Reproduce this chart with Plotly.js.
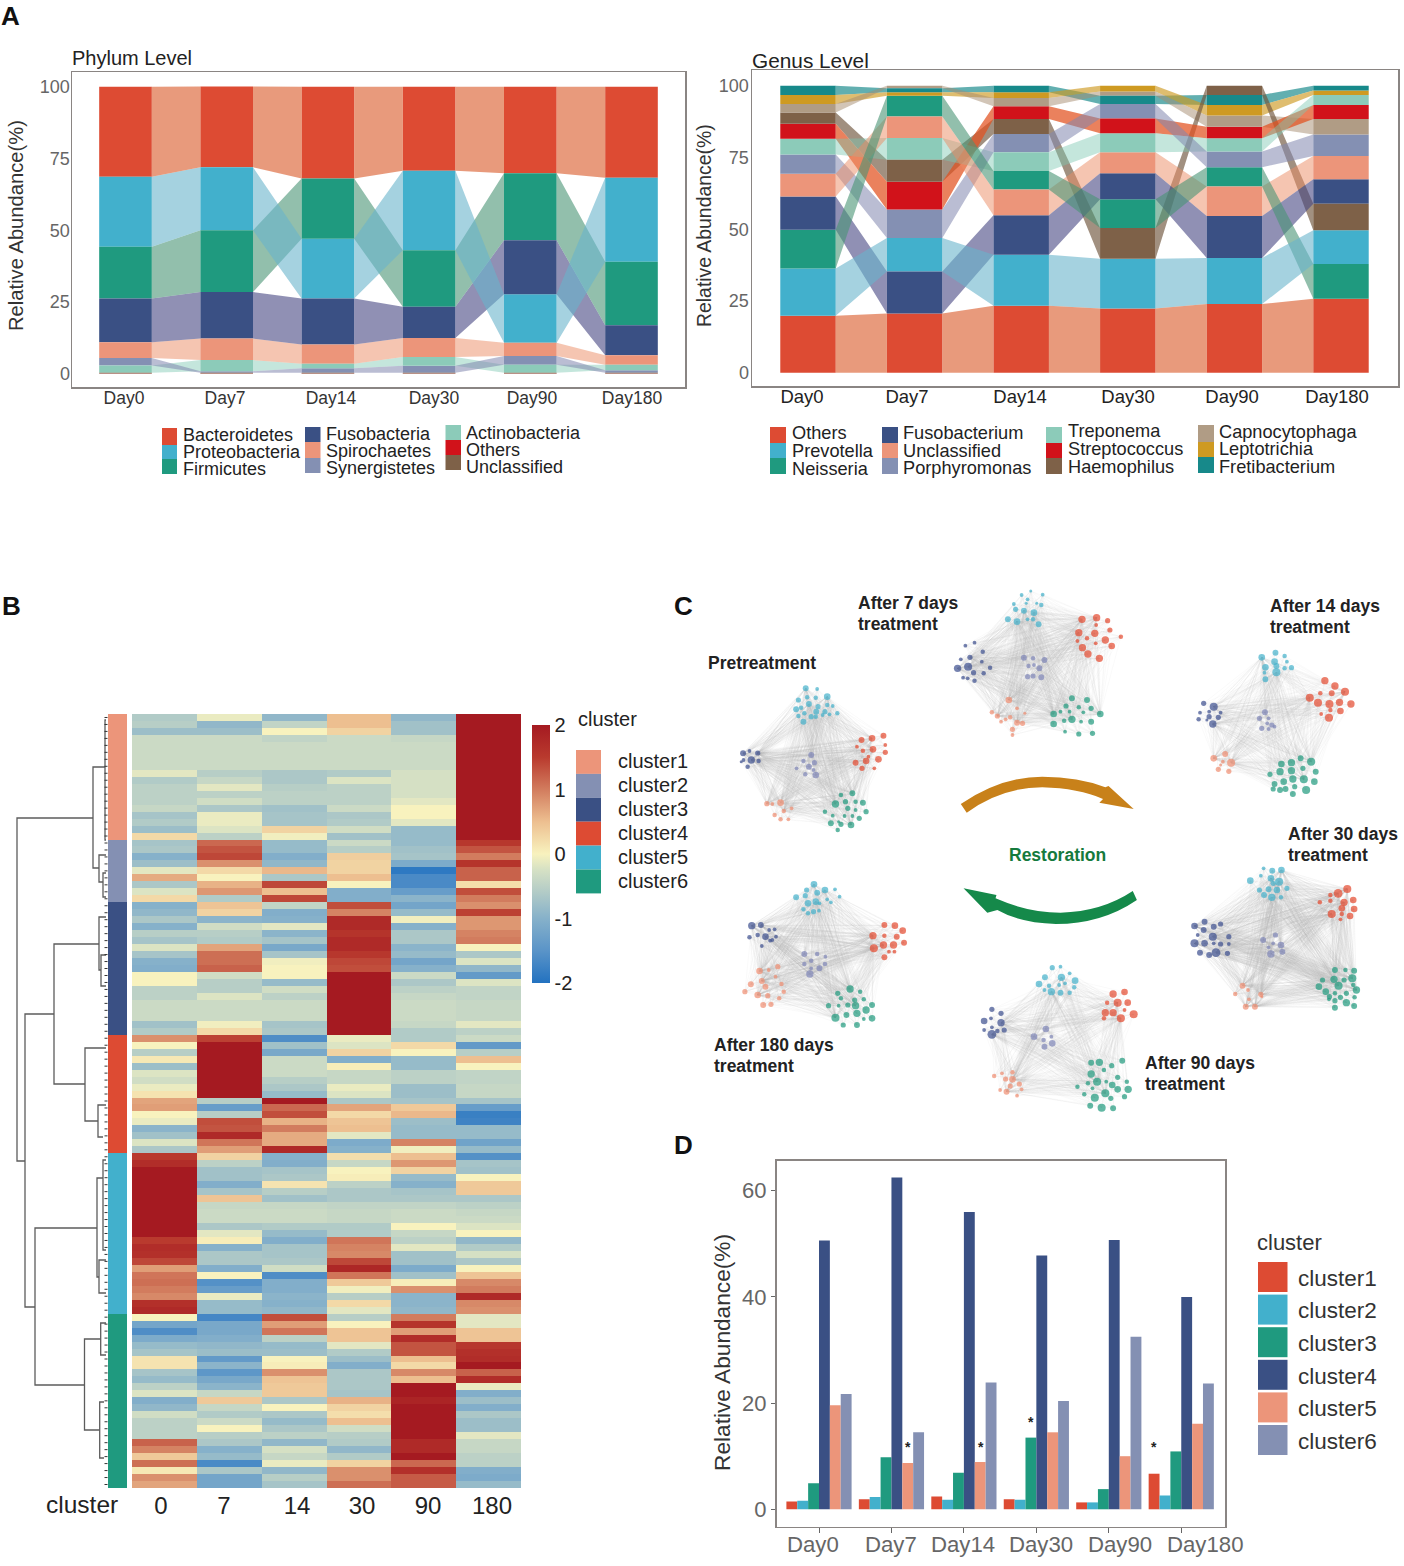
<!DOCTYPE html>
<html><head><meta charset="utf-8">
<script src="https://cdn.plot.ly/plotly-3.0.1.min.js"></script>
<style>html,body{margin:0;padding:0;background:#fff}#c{width:1404px;height:1566px}</style>
</head><body><div id="c"></div>
<script>
var W=1404,H=1566,FONT='"Liberation Sans", Arial, sans-serif';
var days=['Day0','Day7','Day14','Day30','Day90','Day180'];

// ---- Panel A, phylum level
var phylumNames=['Bacteroidetes','Proteobacteria','Firmicutes','Fusobacteria','Spirochaetes','Synergistetes','Actinobacteria','Others','Unclassified'];
var bacteroidetes=[31.4,28.1,32,29.3,30.2,31.7];
var proteobacteria=[24.4,22,20.8,27.7,16.9,29.3];
var firmicutes=[18,21.5,21,19.7,23.3,22.1];
var fusobacteria=[15.2,16.2,16,10.9,18.8,10.5];
var spirochaetes=[5.5,7.5,6.7,6.6,4.6,3.3];
var synergistetes=[2.6,0.5,1.55,2.45,3.1,0.85];
var actinobacteria=[2.55,3.9,1.6,3,2.75,1.9];
var phylumOthers=[0.1,0.1,0.1,0.1,0.1,0.1];
var phylumUnclassified=[0.25,0.25,0.25,0.25,0.25,0.25];
var phylumValues=[bacteroidetes,proteobacteria,firmicutes,fusobacteria,spirochaetes,synergistetes,actinobacteria,phylumOthers,phylumUnclassified];
// stack order per day, bottom to top (indexes into phylumNames)
var phylumStack=[[7,8,6,5,4,3,2,1,0],[7,8,5,6,4,3,2,1,0],[7,8,5,6,4,3,1,2,0],[7,8,5,6,4,3,2,1,0],[7,8,6,5,4,1,3,2,0],[7,8,5,6,4,3,2,1,0]];
var phylumColors=['#DD4B33','#42B0CC','#1F9A7F','#3A5084','#EC957A','#8490B3','#8CCBB9','#D1121A','#7E6148'];
var phylumFlow=['rgba(222,111,68,.7)','rgba(105,180,203,.6)','rgba(73,148,117,.6)','rgba(70,70,130,.6)','rgba(236,140,100,.5)','rgba(130,135,175,.55)','rgba(125,200,178,.45)','rgba(209,18,26,.5)','rgba(126,97,72,.5)'];
var phylumLabelPx=[124,225,331,434,532,632];

// ---- Panel A, genus level
var genusNames=['Others','Prevotella','Neisseria','Fusobacterium','Unclassified','Porphyromonas','Treponema','Streptococcus','Haemophilus','Capnocytophaga','Leptotrichia','Fretibacterium'];
var gOthers=[19.8,20.6,23.3,22.4,23.9,25.8];
var gPrevotella=[16.5,11.6,17.8,17.3,16.1,11.7];
var gNeisseria=[13.5,7.2,6.5,10,6.7,12.1];
var gFusobacterium=[11.6,14.7,13.8,9.1,14.6,8.5];
var gUnclassified=[7.9,7.5,8.9,7.3,10.3,8.1];
var gPorphyromonas=[6.7,10,6.4,5,5.5,7.5];
var gTreponema=[5.5,7.6,6.5,6.6,4.6,3.5];
var gStreptococcus=[5.2,9.6,4.4,5.2,4,4.9];
var gHaemophilus=[4,7.7,5.2,10.7,3.2,9.3];
var gCapnocytophaga=[2.9,0.9,2.9,1.5,3.9,5.4];
var gLeptotrichia=[3.2,1.2,2,2,3.7,1.5];
var gFretibacterium=[3.2,1.4,2.3,2.9,3.5,1.7];
var genusValues=[gOthers,gPrevotella,gNeisseria,gFusobacterium,gUnclassified,gPorphyromonas,gTreponema,gStreptococcus,gHaemophilus,gCapnocytophaga,gLeptotrichia,gFretibacterium];
var genusStack=[[0,1,2,3,4,5,6,7,8,9,10,11],[0,3,1,5,7,8,6,4,2,10,11,9],[0,1,3,4,2,6,5,8,7,9,10,11],[0,1,8,2,3,4,6,7,5,11,9,10],[0,1,3,4,2,5,6,7,9,10,11,8],[0,2,1,8,3,4,5,9,7,6,10,11]];
var genusColors=['#DD4B33','#42B0CC','#1F9A7F','#3A5084','#EC957A','#8490B3','#8CCBB9','#D1121A','#7E6148','#B09C85','#CE9A22','#17898A'];
var genusFlow=['rgba(222,111,68,.7)','rgba(105,180,203,.6)','rgba(73,148,117,.6)','rgba(70,70,130,.6)','rgba(236,140,100,.5)','rgba(130,135,175,.55)','rgba(125,200,178,.45)','rgba(226,80,30,.72)','rgba(110,85,60,.65)','rgba(165,140,112,.5)','rgba(206,154,34,.65)','rgba(23,137,138,.68)'];
var genusLabelPx=[802,907,1020,1128,1232,1337];

// ---- Panel B, heatmap rows (columns 0,7,14,30,90,180)
var heatColumns=['0','7','14','30','90','180'];
var heatCluster1=[[-.6,-.1,-.9,.5,-.9,2.2],[-.55,-.9,-.45,.5,-.75,2.2],[-.8,-.8,0,.3,-.75,2.2],[-.35,-.35,-.45,-.35,-.4,2.2],[-.35,-.35,-.35,-.35,-.35,2.2],[-.35,-.35,-.35,-.35,-.35,2.2],[-.35,-.35,-.35,-.35,-.35,2.2],[-.35,-.35,-.35,-.35,-.35,2.2],[-.15,-.55,-.65,-.6,-.25,2.2],[-.6,-.4,-.65,-.2,-.25,2.2],[-.5,-.15,-.55,-.5,-.25,2.2],[-.5,-.5,-.5,-.5,-.25,2.2],[-.5,-.3,-.5,-.5,-.15,2.2],[-.4,-.65,-.75,-.35,0,2.2],[-.7,-.1,-.7,-.65,0,2.2],[-.6,-.1,-.7,-.6,-.15,2.2],[-.8,-.2,.3,-.3,-.85,2.2],[.25,-.5,-.05,-.75,-.85,2.2]];
var heatCluster2=[[-.7,1.15,-.85,-.35,-.85,1.55],[-.65,1.3,-.85,-.55,-.75,1.3],[-1,1.4,-1.05,.35,-.7,1],[-.8,.85,-.9,.3,-1.1,1.6],[-.15,.25,.55,.3,-1.9,1.2],[.65,0,-.65,.5,-1.65,1.2],[-.65,.6,1.4,0,-1.65,.2],[-.2,.8,.5,-1.05,-1.35,1.35],[.25,-.6,1.4,-1.05,-.95,1]];
var heatCluster3=[[-1,.45,-.45,1.35,-1.2,.85],[-.9,.3,-1.05,.95,-.85,1.45],[-.65,-.95,-1,1.75,-.05,.8],[-1,-.3,-.15,1.75,-1,.8],[-.55,-.55,-.95,1.6,-.65,.95],[-.7,-.6,-.7,1.75,-.65,1],[-.2,.7,-1.15,1.75,-.95,0],[-.7,1.1,-.7,1.55,-.85,-.65],[-1,1.1,-.05,1.4,-1.2,-.2],[-1.05,1.2,0,1.35,-1,-.9],[0,-.3,0,2.2,-.35,-1.4],[0,-.55,-.85,2.2,-.65,-.2],[-.5,-.55,-.3,2.2,-.5,-.45],[-.5,-.2,-.5,2.2,-.4,-.45],[-.35,-.35,-.35,2.2,-.35,-.4],[-.35,-.35,-.35,2.2,-.35,-.4],[-.35,-.35,-.35,2.2,-.35,-.4],[-.75,-.05,-.7,2.2,-.4,-.15],[-.6,.25,-.65,2.2,-.6,-.5]];
var heatCluster4=[[.85,1.45,-1.6,-.1,-.6,-.35],[0,2.1,-.75,-.2,.25,-1.4],[-.55,2.1,-1.15,.3,0,-.55],[.1,2.1,-.35,-1.05,-.85,.5],[-.8,2.2,-.35,.05,-.85,0],[-.2,2.2,-.35,-.4,-.5,-.45],[-.3,2.2,-.55,-.4,-.5,-.45],[-.1,2.2,-.65,-.1,-.8,-.4],[.15,2.2,-.85,-.2,-.8,-.4],[.7,-.55,2.2,-.65,-.7,-.7],[.75,-1.35,1.15,.7,.4,-1.35],[0,-.55,1.35,.25,.55,-1.8],[-.1,1.35,.6,.45,-.8,-1.75],[-.95,1.3,1,.5,-.85,-.85],[-.75,1.75,.65,-.15,-.85,-.85],[-.2,1.05,.65,-1.1,.95,-1.25],[-.65,.75,1.75,-1,-.05,-.85]];
var heatCluster5=[[1.5,.3,-1,.2,.5,-1.55],[1.7,-.5,-1.05,-.4,.8,-.7],[2.15,-.75,-.7,0,.3,-.75],[2.15,-.75,-.65,.05,-.85,0],[2,-1.05,.15,-.5,-1,.4],[2.1,-.7,-.55,-.65,-.7,.4],[2.15,.45,-.75,-.65,-.65,-.65],[2.2,-.4,-.4,-.45,-.45,-.5],[2.2,-.35,-.35,-.4,-.35,-.4],[2.2,-.35,-.35,-.4,-.35,-.35],[2.2,-.65,-.6,-.6,0,-.2],[2.15,-.15,-.85,-.6,-.4,0],[1.5,.05,-1.05,1.05,-.5,-.9],[1.7,-1,-.7,.95,-.15,-.6],[1.65,-.65,-.7,.9,-.75,-.25],[1.4,-.65,-.65,1.4,-.75,-.65],[.75,-1.05,-.3,1.8,-1.1,0],[1.05,0,-1.6,1.05,-.75,.45],[1.1,-1.55,-1.05,.4,.05,.9],[1,-1.35,-1.05,-.05,.85,1],[.9,-.1,-.95,-.55,-.95,1.75],[1.65,-.85,-1,.25,-.95,.9],[1.75,-.85,-.9,-.15,-.9,.85]];
var heatCluster6=[[0,-1.7,1.35,-.55,1,-.15],[-1.2,-1.15,.75,0,1.6,-.15],[-1.6,-1.15,1.05,.45,.75,.45],[-1.1,-1.05,-.5,.45,1.7,.45],[-.85,-.9,-.85,-.15,1.3,1.55],[-.7,-.8,-.8,-.6,1.3,1.65],[.15,-1.4,0,-.8,.5,1.7],[.15,-.95,.05,-1.05,.25,2.05],[-.7,-1.45,.85,-.65,.9,1.2],[-.85,-1.15,.45,-.65,.5,1.7],[-.5,-.95,.4,-.65,2.1,-.1],[-.2,-.4,.4,-.7,2.1,-1.05],[-1.05,.4,-.65,.6,1.85,-.8],[-.9,-.4,0,.3,2.1,-1.05],[-.3,-.6,-.65,.2,2.1,-.65],[-.5,-.35,-.85,.5,2.2,-.8],[-.5,0,-.65,-.3,2.2,-.8],[-.5,-.55,-.5,-.55,2.2,-.15],[1.2,-.65,-.9,-.6,1.75,-.4],[.95,-1,-.25,-.9,1.75,-.4],[.4,-.85,-.4,-.6,2.1,-.5],[1.1,-1.65,-.1,.3,1.15,-.5],[.1,-.65,-.9,.85,1.65,-1.05],[.85,-1.2,-.55,.85,1.25,-1.1],[.7,-1.2,-.7,1.1,1.25,-.85]];
var heatGroups=[heatCluster1,heatCluster2,heatCluster3,heatCluster4,heatCluster5,heatCluster6];
var heatGroupColors=['#EC957A','#8490B3','#3A5084','#DD4B33','#42B0CC','#1F9A7F'];
var heatScale=[[0,'#2372C0'],[.125,'#5A94C8'],[.25,'#86B1CA'],[.375,'#BCD1C6'],[.44,'#D6E1C4'],[.5,'#F8F2BE'],[.625,'#EDBF90'],[.75,'#D27C5E'],[.875,'#B93A2E'],[1,'#A51A21']];
var heatLabelPx=[161,224,297,362,428,492];
// merge: [node x, upper y, upper child x, lower y, lower child x]
var dendroLinks=[[17,818,93,1161,25],[93,767,105,868,99],[99,855,106,882,103],[103,873,106,897,106],[25,1014,54,1307,35],[54,944,99,1084,85],[99,917,106,970,101],[101,955,106,986,106],[85,1048,106,1121,98],[98,1105,106,1137,103],[35,1228,97,1385,84.5],[97,1178,103,1277,99],[103,1160,106,1250,106],[99,1260,106,1293,106],[84.5,1339,100.7,1430,99.7],[100.7,1323,106,1355,106],[99.7,1402,104,1458,104],[105,720,106,840,106]];

// ---- Panel C, network nodes: [x,y,size]
var clusterNodeColors=['#43B1CB','#E4492D','#3C4F8E','#7F86B8','#F08D70','#1F9A7E'];
var netPre=[[[253,325,6],[278,327,3],[237,360,5],[256,352,4],[275,353,4],[300,350,7],[260,372,6],[243,383,4],[232,388,6],[280,380,5],[300,375,4],[312,378,3],[276,395,6],[295,395,5],[250,400,4],[265,410,5],[248,425,6],[275,410,4],[305,403,3],[322,400,4],[237,408,4],[290,405,3]],
[[375,480,6],[398,475,7],[423,467,6],[365,500,3],[378,512,4],[400,508,7],[427,495,3],[427,517,5],[362,548,6],[385,543,7],[412,538,7],[376,565,5],[403,565,3],[390,530,3]],
[[116,520,6],[130,513,3],[148,519,5],[117,540,3],[134,540,8],[150,543,4],[112,545,2],[126,560,4]],
[[265,525,6],[248,543,4],[272,548,5],[260,560,6],[233,565,3],[252,583,4],[275,585,7],[270,570,3]],
[[168,671,5],[180,672,3],[198,668,7],[222,685,3],[205,693,4],[185,705,4],[198,718,4],[215,718,3]],
[[355,640,6],[330,645,4],[318,672,8],[340,665,5],[362,665,4],[378,668,6],[345,685,5],[362,690,3],[385,695,5],[295,695,4],[312,707,3],[338,708,3],[355,708,3],[370,715,5],[308,730,6],[330,733,5],[352,735,7],[323,750,4],[325,725,2]]];
var netDay7=[[[745,33,2],[725,45,3],[771,44,3],[738,58,3],[708,72,3],[758,70,2],[768,75,4],[735,70,2],[712,88,5],[730,92,6],[752,98,7],[695,118,6],[715,125,7],[738,118,3],[750,118,4],[762,133,6]],
[[857,118,8],[889,113,8],[913,122,5],[850,158,8],[885,160,8],[918,150,5],[868,175,4],[908,180,8],[942,170,4],[847,183,3],[858,203,8],[887,190,3],[922,198,7],[870,222,8],[895,235,8],[888,135,3]],
[[602,197,3],[622,188,3],[640,215,4],[592,238,3],[612,232,5],[638,245,3],[608,260,9],[585,265,8],[656,263,4],[620,278,5],[642,280,4],[597,293,3],[607,295,3],[622,302,4]],
[[730,233,6],[750,235,4],[775,240,6],[740,258,4],[752,255,3],[764,265,6],[738,290,5],[750,288,5],[768,292,6]],
[[697,360,7],[715,385,3],[660,397,4],[672,408,5],[700,412,4],[732,400,2],[690,418,3],[680,425,3],[715,428,6],[727,430,5],[705,448,5],[705,465,3]],
[[835,355,6],[868,360,6],[822,378,5],[850,382,4],[877,385,5],[810,395,3],[795,402,7],[830,395,3],[860,397,3],[897,402,7],[818,422,4],[835,418,8],[855,425,3],[877,425,6],[795,432,7],[820,455,3],[850,462,5],[880,460,5]]];
var netDay14=[[[1280,218,6],[1250,232,7],[1300,228,4],[1278,245,7],[1305,245,3],[1258,262,7],[1282,258,6],[1300,265,4],[1315,263,5],[1256,278,3],[1282,277,9],[1258,298,6]],
[[1388,302,8],[1410,318,8],[1378,340,4],[1403,340,6],[1432,335,9],[1355,353,9],[1373,368,9],[1398,372,9],[1420,367,8],[1445,372,8],[1400,390,4],[1380,402,3],[1397,413,9],[1422,393,7]],
[[1123,370,5],[1145,380,9],[1135,395,3],[1160,398,3],[1115,398,3],[1135,410,5],[1155,412,5],[1112,418,4],[1143,432,8],[1130,420,2]],
[[1257,397,6],[1245,415,5],[1265,415,3],[1272,435,5],[1262,430,3],[1250,445,5],[1278,440,3],[1265,447,3]],
[[1170,522,6],[1145,535,7],[1183,548,9],[1165,545,3],[1155,568,5],[1178,574,5],[1160,555,2]],
[[1358,545,9],[1335,535,6],[1315,548,8],[1293,552,7],[1368,575,6],[1340,565,5],[1315,572,8],[1268,583,5],[1290,575,8],[1318,597,8],[1342,598,9],[1298,605,7],[1365,605,7],[1278,612,6],[1322,620,5],[1275,627,5],[1290,630,6],[1302,627,6],[1347,630,9],[1318,642,6]]];
var netDay30=[[[1254,85,3],[1273,92,6],[1293,90,7],[1248,107,3],[1270,115,7],[1225,122,7],[1288,125,9],[1245,150,5],[1265,148,6],[1283,150,7],[1305,145,5],[1255,165,6],[1272,172,8],[1292,172,4],[1275,130,5]],
[[1437,147,9],[1417,160,10],[1400,165,4],[1377,187,4],[1400,182,4],[1430,187,8],[1450,180,7],[1425,205,7],[1452,207,7],[1403,222,9],[1425,222,4],[1443,228,7],[1422,238,3]],
[[1125,245,6],[1103,258,7],[1145,260,6],[1160,252,5],[1123,270,6],[1143,290,9],[1178,290,5],[1110,285,3],[1103,310,9],[1125,310,7],[1160,312,5],[1178,312,3],[1115,338,6],[1135,345,6],[1150,338,10],[1175,340,5],[1145,310,3]],
[[1280,285,5],[1253,300,6],[1275,310,3],[1292,315,7],[1265,322,3],[1295,335,6],[1270,342,8]],
[[1208,437,6],[1192,462,4],[1220,450,3],[1248,463,5],[1222,478,3],[1215,500,6],[1235,500,6],[1250,470,2]],
[[1410,390,6],[1433,390,4],[1452,392,6],[1383,420,5],[1408,418,8],[1430,420,5],[1448,415,9],[1375,440,7],[1418,437,9],[1450,435,4],[1390,455,7],[1410,460,4],[1435,460,5],[1457,450,8],[1398,470,5],[1422,472,5],[1453,472,4],[1410,482,5],[1435,488,8],[1410,503,6],[1452,498,6],[1397,478,3]]];
var netDay90=[[[792,383,5],[810,380,3],[776,412,6],[812,412,8],[830,400,3],[842,422,7],[763,432,7],[785,437,4],[807,435,3],[820,430,3],[840,442,4],[775,450,3],[790,455,8],[810,458,6],[830,458,4]],
[[925,462,8],[950,456,7],[912,488,4],[935,488,9],[957,488,7],[908,518,8],[925,518,8],[942,535,9],[970,523,9],[950,510,3],[905,535,4]],
[[660,508,5],[680,520,5],[643,543,7],[658,535,3],[680,548,8],[643,570,3],[660,562,3],[672,573,4],[687,570,5],[660,583,10]],
[[778,567,7],[752,590,7],[773,600,4],[790,590,3],[775,620,6],[792,610,7]],
[[665,708,4],[682,700,3],[705,697,4],[690,717,5],[705,718,7],[720,732,5],[700,738,5],[678,750,3],[692,755,6],[725,748,3],[715,767,3]],
[[877,668,6],[895,667,8],[945,662,6],[922,677,5],[877,702,8],[905,690,4],[935,712,5],[890,725,9],[870,730,4],[910,725,3],[923,735,7],[955,725,4],[847,740,4],[880,745,3],[908,760,9],[935,748,7],[958,748,8],[862,763,4],[885,773,9],[920,775,5],[950,770,5],[875,797,6],[900,803,9],[925,805,6]]];
var netDay180=[[[271,133,7],[255,150,5],[278,158,6],[295,150,7],[317,148,3],[232,172,6],[252,167,5],[275,185,7],[258,190,7],[300,178,3],[308,187,3],[327,170,3],[283,190,3],[248,208,4],[270,215,5],[282,212,3],[258,220,4]],
[[425,255,6],[448,257,7],[465,272,7],[400,287,8],[425,287,4],[452,290,6],[402,325,9],[423,315,8],[445,315,8],[468,308,6],[425,352,6],[435,335,3],[447,335,3]],
[[135,257,8],[155,255,6],[173,270,3],[185,268,3],[130,292,4],[148,285,4],[165,290,7],[188,290,3],[175,302,3],[180,300,3],[157,318,3]],
[[250,342,6],[278,342,4],[296,350,3],[265,362,4],[250,372,4],[295,372,4],[283,385,6],[265,385,3],[262,402,8]],
[[152,393,7],[192,380,5],[172,390,3],[157,423,6],[187,410,3],[133,433,6],[165,440,6],[200,432,4],[120,455,5],[148,465,7],[170,467,5],[205,455,4],[195,475,4],[160,495,6],[177,493,5]],
[[350,447,8],[323,460,5],[372,455,4],[330,475,4],[360,480,5],[380,478,4],[303,497,5],[325,497,3],[345,495,5],[362,497,8],[398,495,6],[385,510,8],[318,533,9],[342,525,6],[365,520,8],[398,535,7],[335,555,5],[365,555,6],[380,537,3]]];
var networks=[netPre,netDay7,netDay14,netDay30,netDay90,netDay180];
var networkShift=[0,0,0,780,780,780];
var networkHubs=[3,3,2,4,2,3];
var networkText=[['Pretreatment',707,663],['After 7 days',857,603],['treatment',857,624],['After 14 days',1269,606],['treatment',1269,627],['After 30 days',1287,834],['treatment',1287,855],['After 90 days',1144,1063],['treatment',1144,1084],['After 180 days',713,1045],['treatment',713,1066]];

// ---- Panel D
var dCluster1=[1.45,1.9,2.4,1.9,1.3,6.7];
var dCluster2=[1.6,2.3,1.8,1.8,1.3,2.6];
var dCluster3=[4.9,9.8,6.9,13.5,3.8,10.9];
var dCluster4=[50.6,62.5,56,47.8,50.7,40];
var dCluster5=[19.6,8.7,8.9,14.5,10,16.1];
var dCluster6=[21.7,14.5,23.9,20.4,32.5,23.7];
var dValues=[dCluster1,dCluster2,dCluster3,dCluster4,dCluster5,dCluster6];
var dNames=['cluster1','cluster2','cluster3','cluster4','cluster5','cluster6'];
var dColors=['#DD4B33','#42B0CC','#1F9A7F','#3A5084','#EC957A','#8490B3'];
var dLabelPx=[813,891,963,1041,1120,1205];
var dStarsPx=[[908,1447],[981,1447],[1031,1422],[1154,1447]];

// ---- helpers
function px(x){return x/W} function py(y){return 1-y/H}
var anns=[],shapes=[],traces=[];
function T(text,x,y,size,color,anchor,angle){
  var a={text:text,xref:'paper',yref:'paper',x:px(x),y:py(y),xanchor:anchor||'left',yanchor:'middle',showarrow:false,
    font:{family:FONT,size:size,color:color||'#222'},borderpad:0};
  if(angle!==undefined){a.textangle=angle;a.xanchor='center';}
  anns.push(a);
}
function swatch(x0,y0,x1,y1,c){shapes.push({type:'rect',xref:'paper',yref:'paper',x0:px(x0),x1:px(x1),y0:py(y0),y1:py(y1),fillcolor:c,line:{width:0},layer:'above'});}
function alluvial(names,values,stack,colors,flow,xa,ya){
  var lo=values.map(function(){return [0,0,0,0,0,0]}),i,d;
  for(d=0;d<6;d++){var s=0;stack[d].forEach(function(k){lo[k][d]=s;s+=values[k][d];});}
  var w=0.26;
  for(i=names.length-1;i>=0;i--){
    var fx=[],fy=[];
    for(d=0;d<5;d++){
      fx.push(d+w,d+1-w,d+1-w,d+w,d+w,null);
      fy.push(lo[i][d],lo[i][d+1],lo[i][d+1]+values[i][d+1],lo[i][d]+values[i][d],lo[i][d],null);
    }
    traces.push({type:'scatter',mode:'lines',x:fx,y:fy,fill:'toself',fillcolor:flow[i],line:{width:0},hoverinfo:'skip',showlegend:false,xaxis:xa,yaxis:ya});
  }
  for(i=0;i<names.length;i++){
    traces.push({type:'bar',name:names[i],x:[0,1,2,3,4,5],y:values[i],base:lo[i],width:2*w,offset:-w,marker:{color:colors[i],line:{width:0}},showlegend:false,xaxis:xa,yaxis:ya});
  }
}
alluvial(phylumNames,phylumValues,phylumStack,phylumColors,phylumFlow,'x','y');
alluvial(genusNames,genusValues,genusStack,genusColors,genusFlow,'x2','y2');

// dendrogram
(function(){
  var x=[],y=[];
  dendroLinks.forEach(function(l){x.push(l[2],l[0],l[0],l[4],null);y.push(l[1],l[1],l[3],l[3],null);});
  traces.push({type:'scatter',mode:'lines',x:x,y:y,line:{color:'#5c5c5c',width:1.3},hoverinfo:'skip',showlegend:false,xaxis:'x3',yaxis:'y3'});
  var lx=[],ly=[],n=0;
  heatGroups.forEach(function(g){g.forEach(function(){var yy=714+(n+0.5)*774/111;lx.push(104.5,107.5,null);ly.push(yy,yy,null);n++;});});
  traces.push({type:'scatter',mode:'lines',x:lx,y:ly,line:{color:'#333',width:1},hoverinfo:'skip',showlegend:false,xaxis:'x3',yaxis:'y3'});
})();

// heatmap & annotation bar
var heatZ=[],heatIdx=[];
heatGroups.forEach(function(g,k){g.forEach(function(r){heatZ.push(r);heatIdx.push([k+1]);});});
traces.push({type:'heatmap',z:heatIdx,x:['c'],showscale:false,zmin:.5,zmax:6.5,xgap:0,ygap:0,hoverinfo:'skip',
  colorscale:heatGroupColors.reduce(function(a,c,i){a.push([i/6,c],[(i+1)/6,c]);return a;},[]),xaxis:'x4',yaxis:'y4'});
traces.push({type:'heatmap',z:heatZ,x:[0,1,2,3,4,5],zmin:-2,zmax:2,colorscale:heatScale,xaxis:'x5',yaxis:'y5',
  colorbar:{x:px(532),xanchor:'left',xpad:0,y:py(725),yanchor:'top',ypad:0,lenmode:'pixels',len:258,thicknessmode:'pixels',thickness:18,outlinewidth:0,
    tickvals:[-2,-1,0,1,2],ticktext:['-2','-1','0','1','2'],ticks:'',tickfont:{family:FONT,size:20,color:'#222'}}});

// networks
networks.forEach(function(net,n){
  var ex=[],ey=[],sh=networkShift[n],hubs=networkHubs[n];
  var tops=net.map(function(c){return c.slice().sort(function(a,b){return b[2]-a[2]}).slice(0,hubs);});
  net.forEach(function(c,i){
    c.forEach(function(p){
      tops.forEach(function(t,j){
        if(j===i)return;
        t.forEach(function(q){ex.push(p[0],q[0],null);ey.push(p[1]+sh,q[1]+sh,null);});
      });
    });
  });
  traces.push({type:'scatter',mode:'lines',x:ex,y:ey,line:{color:'rgba(190,190,190,.13)',width:.6},hoverinfo:'skip',showlegend:false,xaxis:'x6',yaxis:'y6'});
  net.forEach(function(c,i){
    traces.push({type:'scatter',mode:'markers',x:c.map(function(p){return p[0]}),y:c.map(function(p){return p[1]+sh}),
      marker:{color:clusterNodeColors[i],size:c.map(function(p){return p[2]*.72+1.6}),line:{width:0}},hoverinfo:'skip',showlegend:false,xaxis:'x6',yaxis:'y6'});
  });
});
// restoration arrows (path in the network axes)
shapes.push({type:'path',xref:'x6',yref:'y6',layer:'above',line:{width:0},fillcolor:'#C8811A',
  path:'M 592 672 Q 680 590 770 590 Q 850 590 908 622 L 915 618 L 970 687 L 895 668 L 903 657 Q 850 625 770 622 Q 680 622 605 698 Z'});
shapes.push({type:'path',xref:'x6',yref:'y6',layer:'above',line:{width:0},fillcolor:'#15894A',
  path:'M 977 960 Q 900 1032 800 1032 Q 720 1028 672 990 L 650 998 L 598 925 L 670 945 L 668 955 Q 740 998 810 998 Q 900 995 968 933 Z'});

// D bars
dValues.forEach(function(v,k){
  traces.push({type:'bar',name:dNames[k],x:[0,1,2,3,4,5],y:v,width:.15,offset:-.45+k*.15,marker:{color:dColors[k],line:{width:0}},showlegend:false,xaxis:'x7',yaxis:'y7'});
});

// ---- text
T('<b>A</b>',0,16,26,'#111');T('<b>B</b>',1,606,26,'#111');T('<b>C</b>',673,606,26,'#111');T('<b>D</b>',673,1145,26,'#111');
T('Phylum Level',71,58,20,'#222');T('Genus Level',751,61,20.8,'#222');
T('Relative Abundance(%)',16,226,20.2,'#333','center',-90);
T('Relative Abundance(%)',704,226,19.4,'#333','center',-90);
T('Relative Abundance(%)',722,1353,22.7,'#333','center',-90);
function legend(names,colIdx,rows,size){
  rows.forEach(function(r,i){
    swatch(r[0],r[1],r[2],r[3],names.colors[colIdx[i]]);
    T(names.names[colIdx[i]],r[4],r[5],size,'#222');
  });
}
legend({names:phylumNames,colors:phylumColors},[0,1,2,3,4,5,6,7,8],[
 [162,428,177,445,182,435.4],[162,445,177,459,182,452.3],[162,459,177,474,182,469.2],
 [305,427,320.5,442,325,434.1],[305,442,320.5,458,325,451],[305,458,320.5,473,325,467.9],
 [445.5,425,461,440,465,433.1],[445.5,440,461,455,465,450],[445.5,455,461,470,465,466.9]],18);
legend({names:genusNames,colors:genusColors},[0,1,2,3,4,5,6,7,8,9,10,11],[
 [770,427,786,443,791,433.4],[770,443,786,458,791,451],[770,458,786,474,791,468.6],
 [882,427,898,443,902,432.9],[882,443,898,458,902,450.5],[882,458,898,474,902,468.1],
 [1046,427,1062,443,1067,431.4],[1046,443,1062,458,1067,449],[1046,458,1062,474,1067,466.6],
 [1198,425,1214,442,1218,431.7],[1198,442,1214,457,1218,449.3],[1198,457,1214,473,1218,466.9]],18.2);
// heatmap legend
T('cluster',577,719,20,'#222');
heatGroupColors.forEach(function(c,i){swatch(576,750+i*23.9,601,750+(i+1)*23.9,c);T('cluster'+(i+1),617,761+i*24,20,'#222');});
T('cluster',45,1504,24.5,'#222');
// network captions
networkText.forEach(function(t){T('<b>'+t[0]+'</b>',t[1],t[2],17.5,'#222');});
T('<b>Restoration</b>',1057,855,17.5,'#157A3D','center');
// D legend, labels, stars
T('cluster',1256,1242,22,'#333');
dNames.forEach(function(n,i){swatch(1258,1262+i*32.6,1287.5,1292+i*32.6,dColors[i]);T(n,1297,1278+i*32.7,22.5,'#333');});
days.forEach(function(d,i){T(d,dLabelPx[i],1544,22.2,'#666','center');});
dStarsPx.forEach(function(s){T('<b>*</b>',s[0],s[1],14,'#222','center');});

// ---- layout
function hidden(a,extra){var o={showgrid:false,zeroline:false,showline:false,showticklabels:false,ticks:'',fixedrange:true};for(var k in extra)o[k]=extra[k];return o;}
function framed(extra){var o={showgrid:false,zeroline:false,showline:true,mirror:true,linecolor:'#8a8583',linewidth:1.5,ticks:'',ticklen:0,fixedrange:true};for(var k in extra)o[k]=extra[k];return o;}
function labelVals(arr,c0,step){return arr.map(function(p){return (p-c0)/step});}
var layout={width:W,height:H,autosize:false,margin:{l:0,r:0,t:0,b:0},paper_bgcolor:'#fff',plot_bgcolor:'rgba(0,0,0,0)',showlegend:false,barmode:'overlay',
  font:{family:FONT},annotations:anns,shapes:shapes,
  xaxis:framed({domain:[px(72),px(685)],range:[(72-125.5)/101.2,(685-125.5)/101.2],anchor:'y',tickmode:'array',tickvals:labelVals(phylumLabelPx,125.5,101.2),ticktext:days,tickfont:{family:FONT,size:17.5,color:'#333'},ticklabelstandoff:-6}),
  yaxis:framed({domain:[py(387),py(72)],range:[(373.7-387)/2.87,(373.7-72)/2.87],anchor:'x',tickmode:'array',tickvals:[0,25,50,75,100],tickfont:{family:FONT,size:18,color:'#666'},ticklabelstandoff:-3}),
  xaxis2:framed({domain:[px(752),px(1398)],range:[(752-808)/106.6,(1398-808)/106.6],anchor:'y2',tickmode:'array',tickvals:labelVals(genusLabelPx,808,106.6),ticktext:days,tickfont:{family:FONT,size:18.5,color:'#222'},ticklabelstandoff:-7}),
  yaxis2:framed({domain:[py(386),py(70)],range:[(372.7-386)/2.87,(372.7-70)/2.87],anchor:'x2',tickmode:'array',tickvals:[0,25,50,75,100],tickfont:{family:FONT,size:18,color:'#666'},ticklabelstandoff:-2}),
  xaxis3:hidden(0,{domain:[0,px(108)],range:[0,108],anchor:'y3'}),
  yaxis3:hidden(0,{domain:[py(1488),py(714)],range:[1488,714],anchor:'x3'}),
  xaxis4:hidden(0,{domain:[px(108),px(127)],anchor:'y4'}),
  yaxis4:hidden(0,{domain:[py(1488),py(714)],range:[110.5,-.5],anchor:'x4'}),
  xaxis5:hidden(0,{domain:[px(132),px(521)],range:[-.5,5.5],anchor:'y5',showticklabels:true,tickmode:'array',tickvals:labelVals(heatLabelPx,164.4,64.83),ticktext:heatColumns,tickfont:{family:FONT,size:24,color:'#222'},ticklabelstandoff:1}),
  yaxis5:hidden(0,{domain:[py(1488),py(714)],range:[110.5,-.5],anchor:'x5'}),
  xaxis6:hidden(0,{domain:[px(690),px(1404)],range:[0,1561],anchor:'y6'}),
  yaxis6:hidden(0,{domain:[py(1120),py(580)],range:[1620,0],anchor:'x6'}),
  xaxis7:framed({domain:[px(776.5),px(1225)],range:[(776.5-819)/72.45,(1225-819)/72.45],anchor:'y7',tickmode:'array',tickvals:[0,1,2,3,4,5],ticktext:days,showticklabels:false,ticks:'outside',ticklen:5,tickcolor:'#666',mirror:true}),
  yaxis7:framed({domain:[py(1526.7),py(1160.7)],range:[(1509.3-1526.7)/5.31,(1509.3-1160.7)/5.31],anchor:'x7',tickmode:'array',tickvals:[0,20,40,60],ticks:'outside',ticklen:4,tickcolor:'#666',tickfont:{family:FONT,size:22,color:'#666'}})
};
Plotly.newPlot('c',traces,layout,{staticPlot:true,displayModeBar:false});
</script></body></html>
